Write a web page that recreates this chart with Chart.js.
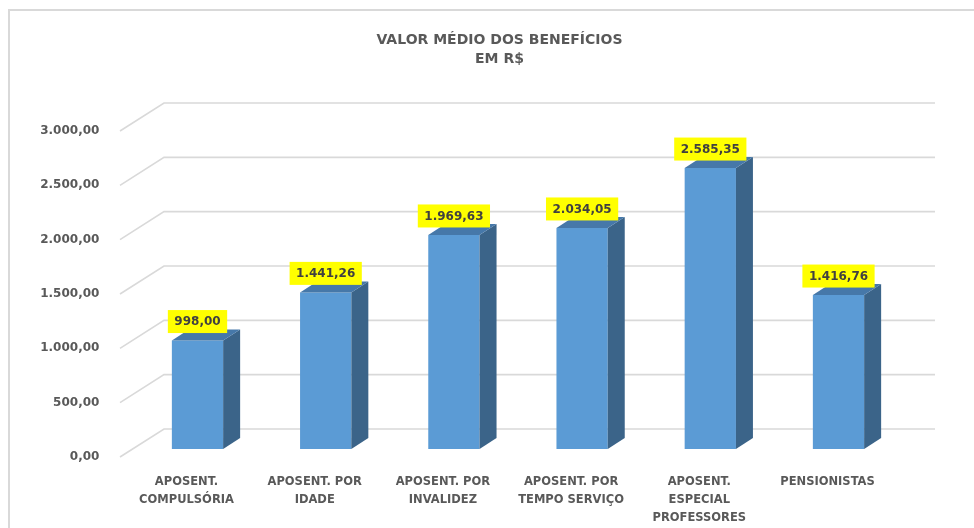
<!DOCTYPE html>
<html>
<head>
<meta charset="utf-8">
<script src="https://cdn.jsdelivr.net/npm/chart.js@4/dist/chart.umd.min.js"></script>
<style>
  html, body { margin: 0; padding: 0; background: #fff; overflow: hidden; }
  #wrap { position: relative; width: 974px; height: 528px; overflow: hidden; }
</style>
</head>
<body>
<div id="wrap">
  <canvas id="c" width="974" height="528"></canvas>
</div>
<script>
const titleLines = ['VALOR MÉDIO DOS BENEFÍCIOS', 'EM R$'];
const categories = [
  ['APOSENT.', 'COMPULSÓRIA'],
  ['APOSENT. POR', 'IDADE'],
  ['APOSENT. POR', 'INVALIDEZ'],
  ['APOSENT. POR', 'TEMPO SERVIÇO'],
  ['APOSENT.', 'ESPECIAL', 'PROFESSORES'],
  ['PENSIONISTAS']
];
const values = [998.00, 1441.26, 1969.63, 2034.05, 2585.35, 1416.76];
const yTicks = [0, 500, 1000, 1500, 2000, 2500, 3000];

const FONT = '"DejaVu Sans", sans-serif';

function fmtBR(v) {
  const parts = v.toFixed(2).split('.');
  const intPart = parts[0].replace(/\B(?=(\d{3})+(?!\d))/g, '.');
  return intPart + ',' + parts[1];
}

// 3D geometry offsets (pixels)
const WALL_FRONT = { dx: -13.4, dy: 8 };
const WALL_BACK = { dx: 30.6, dy: -20 };
const BAR_DEPTH = { dx: 17, dy: -11 };

const framePlugin = {
  id: 'frame',
  beforeDraw(chart) {
    const ctx = chart.ctx;
    ctx.save();
    ctx.strokeStyle = '#d9d9d9';
    ctx.lineWidth = 2;
    ctx.beginPath();
    ctx.moveTo(9, chart.height + 2);
    ctx.lineTo(9, 10);
    ctx.lineTo(chart.width + 2, 10);
    ctx.stroke();
    ctx.restore();
  }
};

const titlePlugin = {
  id: 'customTitle',
  afterDraw(chart) {
    const ctx = chart.ctx;
    ctx.save();
    ctx.fillStyle = '#595959';
    ctx.font = 'bold 14px ' + FONT;
    ctx.textAlign = 'center';
    ctx.textBaseline = 'middle';
    titleLines.forEach((t, i) => ctx.fillText(t, 499.5, 40 + i * 19));
    ctx.restore();
  }
};

const gridPlugin = {
  id: 'grid3d',
  beforeDatasetsDraw(chart) {
    const ctx = chart.ctx;
    const y = chart.scales.y;
    const area = chart.chartArea;
    ctx.save();
    ctx.strokeStyle = '#d9d9d9';
    ctx.lineWidth = 1.6;
    yTicks.forEach(v => {
      const py = y.getPixelForValue(v);
      ctx.beginPath();
      ctx.moveTo(area.left + WALL_FRONT.dx, py + WALL_FRONT.dy);
      ctx.lineTo(area.left + WALL_BACK.dx, py + WALL_BACK.dy);
      ctx.lineTo(area.right + 32.4, py + WALL_BACK.dy);
      ctx.stroke();
    });
    ctx.restore();
  }
};

const bar3dPlugin = {
  id: 'bar3d',
  afterDatasetsDraw(chart) {
    const ctx = chart.ctx;
    const meta = chart.getDatasetMeta(0);
    ctx.save();
    meta.data.forEach((el, i) => {
      const p = el.getProps(['x', 'y', 'base', 'width'], true);
      const x1 = p.x - p.width / 2, x2 = p.x + p.width / 2;
      const top = p.y, base = p.base;
      // side face
      ctx.fillStyle = '#3b6489';
      ctx.beginPath();
      ctx.moveTo(x2, top);
      ctx.lineTo(x2 + BAR_DEPTH.dx, top + BAR_DEPTH.dy);
      ctx.lineTo(x2 + BAR_DEPTH.dx, base + BAR_DEPTH.dy);
      ctx.lineTo(x2, base);
      ctx.closePath();
      ctx.fill();
      // top face
      ctx.fillStyle = '#4678a9';
      ctx.beginPath();
      ctx.moveTo(x1, top);
      ctx.lineTo(x1 + BAR_DEPTH.dx, top + BAR_DEPTH.dy);
      ctx.lineTo(x2 + BAR_DEPTH.dx, top + BAR_DEPTH.dy);
      ctx.lineTo(x2, top);
      ctx.closePath();
      ctx.fill();
    });
    // data labels
    ctx.font = 'bold 12px ' + FONT;
    ctx.textAlign = 'center';
    ctx.textBaseline = 'middle';
    meta.data.forEach((el, i) => {
      const p = el.getProps(['x', 'y'], true);
      const txt = fmtBR(values[i]);
      const w = ctx.measureText(txt).width + 13;
      const h = 23;
      const bottom = p.y - 7.5;
      ctx.fillStyle = '#ffff00';
      ctx.fillRect(p.x - w / 2, bottom - h, w, h);
      ctx.fillStyle = '#404040';
      ctx.fillText(txt, p.x, bottom - h / 2 + 0.5);
    });
    ctx.restore();
  }
};

new Chart(document.getElementById('c'), {
  type: 'bar',
  data: {
    labels: categories,
    datasets: [{
      data: values,
      backgroundColor: '#5b9bd5',
      borderWidth: 0,
      barPercentage: 0.40,
      categoryPercentage: 1.0
    }]
  },
  options: {
    responsive: false,
    animation: false,
    layout: { padding: { top: 123, left: 10, right: 71.4, bottom: 0 } },
    plugins: {
      legend: { display: false },
      title: { display: false },
      tooltip: { enabled: false }
    },
    scales: {
      x: {
        grid: { display: false },
        border: { display: false },
        afterFit(scale) { scale.height = 79; },
        ticks: {
          color: '#595959',
          font: { family: FONT, size: 11.5, weight: 'bold', lineHeight: 1.565 },
          padding: 16,
          labelOffset: -11,
          maxRotation: 0,
          autoSkip: false
        }
      },
      y: {
        min: 0,
        max: 3000,
        grid: { display: false },
        border: { display: false },
        afterFit(scale) { scale.width = 123.4; },
        afterBuildTicks(scale) { scale.ticks = yTicks.map(v => ({ value: v })); },
        ticks: {
          color: '#595959',
          font: { family: FONT, size: 12, weight: 'bold' },
          padding: 26,
          labelOffset: 8,
          callback: (v) => fmtBR(v)
        }
      }
    }
  },
  plugins: [framePlugin, gridPlugin, bar3dPlugin, titlePlugin]
});
</script>
</body>
</html>
